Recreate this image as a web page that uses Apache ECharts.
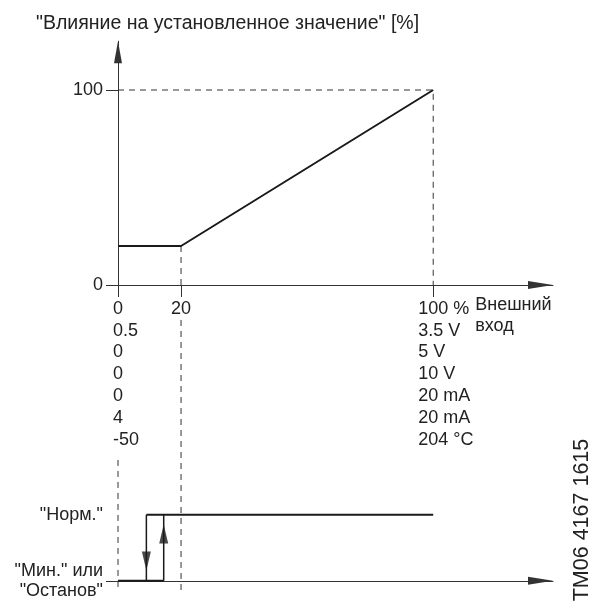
<!DOCTYPE html>
<html><head><meta charset="utf-8">
<script src="https://cdn.jsdelivr.net/npm/echarts@6/dist/echarts.min.js"></script>
<style>html,body{margin:0;padding:0;background:#fff}#c{width:589px;height:606px}</style>
</head><body><div id="c"></div>
<script>
// ---- data ----
const titleText = '"Влияние на установленное значение" [%]';
const yTickValues = [0, 100];
const xTickValues = [0, 20, 100];
const xTickColumns = [
  ['0', '0.5', '0', '0', '0', '4', '-50'],
  ['20'],
  ['100 %', '3.5 V', '5 V', '10 V', '20 mA', '20 mA', '204 °C']
];
const xAxisName = ['Внешний', 'вход'];
const curveX = [0, 20, 100];
const curveY = [20, 20, 100];
const stateValues = [0, 1];
const stateLabels = ['"Мин." или\n"Останов"', '"Норм."'];
const switchOffX = 9;     // falling input: back to Min
const switchOnX = 14.5;   // rising input: to Norm
const normEndX = 100;
const downArrowY = 0.30;
const upArrowY = 0.71;
const stampText = 'TM06 4167 1615';

// ---- style / layout ----
const FONT_FAMILY = '"Liberation Sans", Arial, sans-serif';
const FS = 18;
const TXT = '#222';
const LINE = '#1a1a1a';
const AXIS = '#333';
const X_MAX = 138, Y_MAX = 125;
const B_MIN = -0.14, B_MAX = 3.95;
const DASH = [6, 5];

const mctx = document.createElement('canvas').getContext('2d');
mctx.font = FS + 'px ' + FONT_FAMILY;
const measure = s => mctx.measureText(s).width;

const chart = echarts.init(document.getElementById('c'));
const pts = (xs, ys) => xs.map((x, i) => [x, ys[i]]);

const arrowLine = (size) => ({
  show: true, onZero: true,
  lineStyle: { color: AXIS, width: 1 },
  symbol: ['none', 'triangle'],
  symbolSize: size,
  symbolOffset: [0, -size[1] / 2]
});

const lineS = (xi, data, width, dashed) => ({
  type: 'line', xAxisIndex: xi, yAxisIndex: xi, data: data,
  symbol: 'none', silent: true, animation: false,
  lineStyle: { color: dashed ? AXIS : LINE, width: width, type: dashed ? DASH : 'solid' }
});

chart.setOption({
  animation: false,
  backgroundColor: '#fff',
  title: {
    text: titleText, left: 31, top: 9,
    textStyle: { fontSize: 19.5, fontWeight: 'normal', color: TXT, fontFamily: FONT_FAMILY }
  },
  graphic: [{
    type: 'text', x: 582, y: 520, rotation: Math.PI / 2,
    style: { text: stampText, align: 'center', verticalAlign: 'middle',
      font: '21.5px ' + FONT_FAMILY, fill: TXT }
  }],
  grid: [
    { left: 118, top: 285 - Y_MAX * 1.95, width: 435, height: Y_MAX * 1.95 },
    { left: 118, top: 320, width: 435, height: 270 }
  ],
  xAxis: [
    { gridIndex: 0, type: 'value', min: 0, max: X_MAX,
      axisLine: arrowLine([8, 25]),
      axisTick: { show: true, customValues: xTickValues, length: 12, lineStyle: { color: AXIS } },
      axisLabel: { show: false }, splitLine: { show: false } },
    { gridIndex: 1, type: 'value', min: 0, max: X_MAX,
      axisLine: arrowLine([8, 25]),
      axisTick: { show: false }, axisLabel: { show: false }, splitLine: { show: false } }
  ],
  yAxis: [
    { gridIndex: 0, type: 'value', min: 0, max: Y_MAX,
      axisLine: arrowLine([8, 22]),
      axisTick: { show: true, customValues: yTickValues, length: 12, lineStyle: { color: AXIS } },
      axisLabel: { customValues: yTickValues, margin: 15, fontSize: FS, color: TXT, fontFamily: FONT_FAMILY },
      splitLine: { show: false } },
    { gridIndex: 1, type: 'value', min: B_MIN, max: B_MAX,
      axisLine: { show: false },
      axisTick: { show: true, customValues: [0], length: 12, lineStyle: { color: AXIS } },
      axisLabel: { customValues: stateValues, margin: 15, fontSize: FS, color: TXT, fontFamily: FONT_FAMILY,
        lineHeight: 20, padding: [0, 0, 7, 0],
        formatter: v => stateLabels[stateValues.indexOf(v)] },
      splitLine: { show: false } }
  ],
  series: [
    lineS(0, [[0, 100], [100, 100], [100, 0]], 1, true),
    lineS(0, [[20, 20], [20, 0]], 1, true),
    lineS(0, pts(curveX, curveY), 2, false),
    lineS(1, [[20, B_MAX], [20, B_MIN]], 1, true),
    lineS(1, [[0, 1.83], [0, B_MIN]], 1, true),
    lineS(1, [[switchOffX, 1], [normEndX, 1]], 2, false),
    lineS(1, [[0, 0], [switchOnX, 0]], 2, false),
    lineS(1, [[switchOffX, 1], [switchOffX, 0]], 1.5, false),
    lineS(1, [[switchOnX, 0], [switchOnX, 1]], 1.5, false),
    { type: 'scatter', xAxisIndex: 1, yAxisIndex: 1, silent: true,
      data: [
        { value: [switchOffX, downArrowY], symbolRotate: 180 },
        { value: [switchOnX, upArrowY], symbolRotate: 0 }
      ],
      symbol: 'triangle', symbolSize: [9, 19],
      itemStyle: { color: LINE } },
    { type: 'custom', xAxisIndex: 0, yAxisIndex: 0, silent: true,
      data: xTickValues.map((v, i) => [v, i]),
      renderItem: (params, api) => {
        const i = api.value(1);
        const p = api.coord([api.value(0), 0]);
        const lines = xTickColumns[i];
        const shift = measure(lines[0].split(' ')[0]) / 2;
        const children = [{
          type: 'text',
          style: { text: lines.join('\n'), x: p[0] - shift, y: p[1] + 13,
            align: 'left', verticalAlign: 'top', font: FS + 'px ' + FONT_FAMILY,
            lineHeight: 21.8, fill: TXT }
        }];
        if (i === xTickValues.length - 1) {
          children.push({
            type: 'text',
            style: { text: xAxisName.join('\n'), x: p[0] + 42, y: p[1] + 10,
              align: 'left', verticalAlign: 'top', font: FS + 'px ' + FONT_FAMILY,
              lineHeight: 20.5, fill: TXT }
          });
        }
        return { type: 'group', children: children };
      } }
  ]
});
</script></body></html>
